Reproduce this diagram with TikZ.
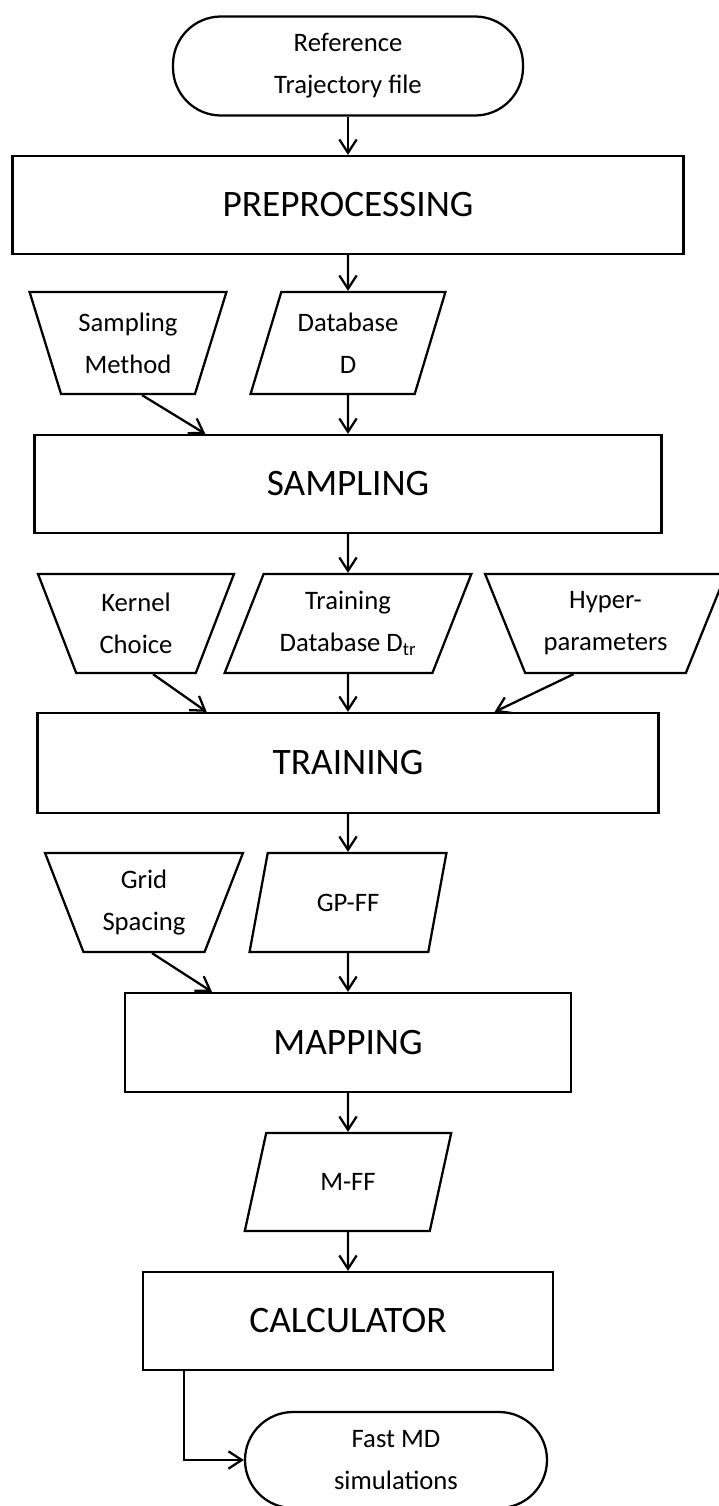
\documentclass[tikz,border=0pt]{standalone}
\usepackage{fontspec}
\setmainfont{Carlito}
\usetikzlibrary{shapes.geometric,arrows.meta}

\newcommand{\smalltxt}{\fontsize{20}{31.5}\selectfont}
\newcommand{\bigtxt}{\fontsize{28}{33}\selectfont}

\begin{document}
\begin{tikzpicture}[x=0.75pt,y=0.75pt,yscale=-1,line width=1.7pt,
  terminal/.style={draw,rectangle,rounded corners=36pt,align=center,inner sep=0pt,font=\smalltxt},
  process/.style={draw,rectangle,inner sep=0pt,font=\bigtxt},
  manual/.style={draw,trapezium,trapezium left angle=111,trapezium right angle=111,trapezium stretches=true,align=center,inner sep=0pt,font=\smalltxt},
  data/.style={draw,trapezium,trapezium left angle=69,trapezium right angle=111,trapezium stretches=true,align=center,inner sep=0pt,font=\smalltxt},
  arr/.style={-{Straight Barb[length=10pt,width=13pt]}}]
\useasboundingbox (0,0) rectangle (718,1506);

%Shape: Terminal
\node[terminal,minimum width=262.5pt,minimum height=74.25pt] (ref) at (348,66) {Reference\\Trajectory file};

%Shape: Rectangle
\node[process,minimum width=503.25pt,minimum height=73.5pt] (pre) at (348,205) {PREPROCESSING};

%Shape: Manual input / data
\node[manual,minimum width=147.75pt,minimum height=76.5pt] (smeth) at (128,343) {Sampling\\Method};
\node[data,minimum width=146.25pt,minimum height=76.5pt] (dbD) at (348,343) {Database\\D};

%Shape: Rectangle
\node[process,minimum width=470.25pt,minimum height=73.5pt] (samp) at (348,484) {SAMPLING};

%Shape: Manual input / data
\node[manual,minimum width=147.75pt,minimum height=74.25pt] (kern) at (136,623.5) {Kernel\\Choice};
\node[data,trapezium left angle=64,trapezium right angle=116,minimum width=185.25pt,minimum height=74.25pt] (dbtr) at (348,623.5) {Training\\Database D\textsubscript{tr}};
\node[manual,trapezium left angle=116,trapezium right angle=116,minimum width=180.75pt,minimum height=74.25pt] (hyp) at (605.5,623.5) {Hyper-\\parameters};

%Shape: Rectangle
\node[process,minimum width=465.75pt,minimum height=75pt] (train) at (348,763) {TRAINING};

%Shape: Manual input / data
\node[manual,trapezium left angle=112,trapezium right angle=112,minimum width=148.5pt,minimum height=74.25pt] (grid) at (144,902.5) {Grid\\Spacing};
\node[data,trapezium left angle=68,trapezium right angle=112,minimum width=147.75pt,minimum height=74.25pt] (gpff) at (348,902.5) {GP-FF};

%Shape: Rectangle
\node[process,minimum width=334.5pt,minimum height=74.25pt] (map) at (348,1042.5) {MAPPING};

%Shape: data
\node[data,trapezium left angle=67,trapezium right angle=113,minimum width=155.25pt,minimum height=73.5pt] (mff) at (348,1182) {M-FF};

%Shape: Rectangle
\node[process,minimum width=307.5pt,minimum height=73.5pt] (calc) at (348,1321) {CALCULATOR};

%Shape: Terminal
\node[terminal,minimum width=226.5pt,minimum height=72pt] (fmd) at (396,1460) {Fast MD\\simulations};

%Straight Lines
\draw[arr] (ref.south) -- (pre.north);
\draw[arr] (pre.south) -- (dbD.north);
\draw[arr] (dbD.south) -- (samp.north);
\draw[arr] ([xshift=10.5pt]smeth.south) -- ([xshift=-107pt]samp.north);
\draw[arr] (samp.south) -- (dbtr.north);
\draw[arr] (dbtr.south) -- (train.north);
\draw[arr] ([xshift=12.75pt]kern.south) -- ([xshift=-106pt]train.north);
\draw[arr] ([xshift=-24pt]hyp.south) -- ([xshift=110pt]train.north);
\draw[arr] (train.south) -- (gpff.north);
\draw[arr] (gpff.south) -- (map.north);
\draw[arr] ([xshift=6pt]grid.south) -- ([xshift=-102pt]map.north);
\draw[arr] (map.south) -- (mff.north);
\draw[arr] (mff.south) -- (calc.north);
\draw[arr] ([xshift=-123pt]calc.south) |- (fmd.west);

\end{tikzpicture}
\end{document}
